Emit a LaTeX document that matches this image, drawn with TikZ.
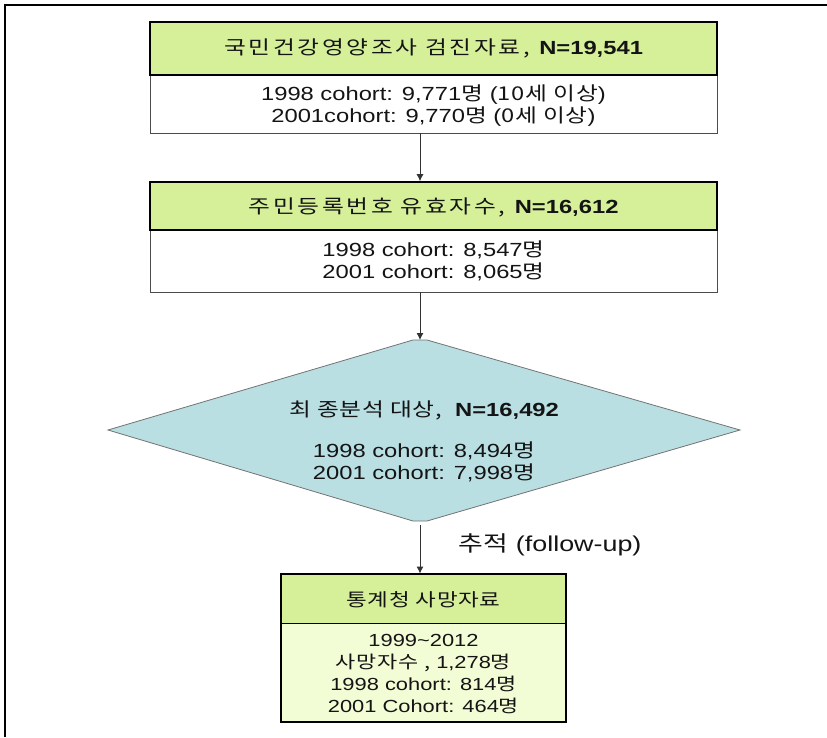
\documentclass[tikz,border=0pt]{standalone}
\usepackage{fontspec}
\setmainfont{Liberation Sans}[FakeStretch=1.25]
\newfontfamily\kr{Noto Sans CJK KR}[FakeStretch=1.25,LetterSpace=4]
\newfontfamily\krh{Noto Sans CJK KR}[FakeStretch=1.25,LetterSpace=14]
\usetikzlibrary{arrows.meta}
\definecolor{hdrgreen}{RGB}{214,240,154}
\definecolor{bodygreen}{RGB}{242,252,213}
\definecolor{diafill}{RGB}{185,223,227}
\definecolor{txt}{RGB}{20,20,20}
\tikzset{
  hdr/.style={draw=black, line width=1.6pt, fill=hdrgreen, inner sep=0pt},
  bodybox/.style={draw=black!70, line width=0.8pt, fill=white, inner sep=0pt},
  lbl/.style={font=\fontsize{19}{22}\selectfont, text=txt, align=center, inner sep=0pt},
  arr/.style={draw=black!80, line width=0.9pt, -{Latex[length=7pt,width=7pt]}}
}
\begin{document}
\begin{tikzpicture}[x=1pt,y=-1pt]
\useasboundingbox (0,0) rectangle (827,737);
\fill[white] (0,0) rectangle (827,737);
% outer frame (only top and left visible)
\draw[line width=1.6pt, black] (5,737) -- (5,5) -- (827,5);

% box 1
\node[bodybox, minimum width=567pt, minimum height=58pt] (b1) at (433.5,104) {};
\node[hdr, minimum width=567pt, minimum height=53pt] (h1) at (433.5,48.5) {};
\node[lbl] (h1t) at (433.5,48) {{\krh 국민건강영양조사 검진자료,} \textbf{N=19,541}};
\node[lbl] (b1t) at (433.5,106) {1998 cohort: 9,771{\kr 명} ({\kr 10세 이상})\\2001cohort: 9,770{\kr 명} ({\kr 0세 이상})};

% box 2
\node[bodybox, minimum width=567pt, minimum height=62pt] (b2) at (433.5,261) {};
\node[hdr, minimum width=567pt, minimum height=48pt] (h2) at (433.5,206) {};
\node[lbl] (h2t) at (433.5,207) {{\krh 주민등록번호 유효자수,} \textbf{N=16,612}};
\node[lbl] (b2t) at (433.5,261) {1998 cohort: 8,547{\kr 명}\\2001 cohort: 8,065{\kr 명}};

% diamond
\coordinate (dT) at (420,340);
\coordinate (dB) at (420,521);
\coordinate (dL) at (108,430);
\coordinate (dR) at (740,430);
\draw[draw=black!55, line width=0.8pt, fill=diafill]
  (413,340) -- (427,340) -- (dR) -- (427,521) -- (413,521) -- (dL) -- cycle;
\node[lbl] (dh) at (424,410) {{\kr 최 종분석 대상,}\ \ \textbf{N=16,492}};
\node[lbl] (dt) at (424,462) {1998 cohort: 8,494{\kr 명}\\2001 cohort: 7,998{\kr 명}};

% box 3
\node[draw=black, line width=0.9pt, fill=bodygreen, minimum width=285pt, minimum height=99pt, inner sep=0pt] (b3) at (423.5,672.5) {};
\node[draw=black, line width=0.9pt, fill=hdrgreen, minimum width=285pt, minimum height=49pt, inner sep=0pt] (h3) at (423.5,598.5) {};
\draw[black, line width=2pt] (281,574) rectangle (566,722);
\node[lbl, font=\fontsize{18}{22}\selectfont] (h3t) at (423.5,600) {{\kr 통계청 사망자료}};
\node[lbl, font=\fontsize{17.5}{21.7}\selectfont] (b3t) at (423.5,674) {1999\textasciitilde 2012\\{\kr 사망자수 ,} 1,278{\kr 명}\\1998 cohort: 814{\kr 명}\\2001 Cohort: 464{\kr 명}};

% arrows
\draw[arr] (b1.south -| dT) -- (h2.north -| dT);
\draw[arr] (b2.south -| dT) -- (dT);
\draw[arr] (dB) ++(0,4) -- (h3.north -| dT);
\node[lbl, anchor=west, font=\fontsize{21.5}{24}\selectfont] (fu) at (458,545) {{\kr 추적} (follow-up)};
\end{tikzpicture}
\end{document}
